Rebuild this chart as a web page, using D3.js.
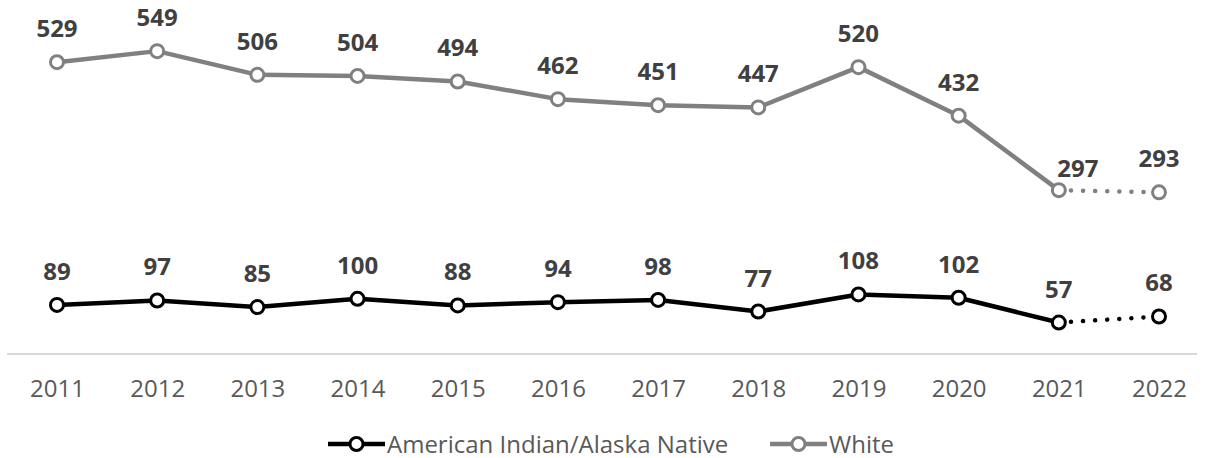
<!DOCTYPE html>
<html>
<head>
<meta charset="utf-8">
<script src="https://cdn.jsdelivr.net/npm/d3@7"></script>
<style>
  html, body { margin: 0; padding: 0; background: #fff; }
  svg { display: block; font-family: "Open Sans", sans-serif; }
</style>
</head>
<body>
<svg id="chart" width="1205" height="458"></svg>
<script>
// Yearly counts by group
const years = ["2011","2012","2013","2014","2015","2016","2017","2018","2019","2020","2021","2022"];
const aianValues = [89, 97, 85, 100, 88, 94, 98, 77, 108, 102, 57, 68];
const whiteValues = [529, 549, 506, 504, 494, 462, 451, 447, 520, 432, 297, 293];
const seriesNames = ["American Indian/Alaska Native", "White"];

const series = [
  { name: seriesNames[0], values: aianValues, color: "#000000" },
  { name: seriesNames[1], values: whiteValues, color: "#808080" }
];

const svg = d3.select("#chart");

const x = d3.scalePoint().domain(years).range([57, 1159]);
const y = d3.scaleLinear().domain([0, 600]).range([354, 23]);

// Baseline axis
svg.append("line")
  .attr("x1", 7).attr("x2", 1197)
  .attr("y1", y(0)).attr("y2", y(0))
  .attr("stroke", "#d9d9d9").attr("stroke-width", 2);

const xAxis = svg.append("g")
  .attr("transform", `translate(0,${y(0)})`)
  .call(d3.axisBottom(x).tickSize(0).tickPadding(0));
xAxis.select(".domain").remove();
xAxis.selectAll("text")
  .attr("y", 43)
  .attr("dy", 0)
  .attr("fill", "#595959")
  .style("font-size", "24px")
  .style("font-family", "'Open Sans', sans-serif");

const line = d3.line().x(d => x(d.year)).y(d => y(d.value));

// Label offsets (dx, dy from point) for the few labels moved off the default spot
const labelOffset = { "White|2021": [19, -13] };

series.forEach(s => {
  const pts = years.map((yr, i) => ({ year: yr, value: s.values[i] }));
  const solid = pts.slice(0, pts.length - 1);
  const dotted = pts.slice(pts.length - 2);

  svg.append("path")
    .datum(solid)
    .attr("d", line)
    .attr("fill", "none")
    .attr("stroke", s.color)
    .attr("stroke-width", 4.5)
    .attr("stroke-linejoin", "round");

  svg.append("path")
    .datum(dotted)
    .attr("d", line)
    .attr("fill", "none")
    .attr("stroke", s.color)
    .attr("stroke-width", 4.5)
    .attr("stroke-linecap", "round")
    .attr("stroke-dasharray", "0.1 12");

  svg.append("g").selectAll("circle")
    .data(pts).join("circle")
    .attr("cx", d => x(d.year))
    .attr("cy", d => y(d.value))
    .attr("r", 6.5)
    .attr("fill", "#fff")
    .attr("stroke", s.color)
    .attr("stroke-width", 3);

  svg.append("g").selectAll("text")
    .data(pts).join("text")
    .attr("x", d => x(d.year) + ((labelOffset[s.name + "|" + d.year] || [0, -25])[0]))
    .attr("y", d => y(d.value) + ((labelOffset[s.name + "|" + d.year] || [0, -25])[1]))
    .attr("text-anchor", "middle")
    .attr("fill", "#404040")
    .style("font-size", "24px")
    .style("font-weight", "700")
    .text(d => d.value);
});

// Legend
const legendItems = [
  { s: series[0], x0: 328 },
  { s: series[1], x0: 770 }
];
const ly = 444;
legendItems.forEach(it => {
  const g = svg.append("g");
  g.append("line")
    .attr("x1", it.x0).attr("x2", it.x0 + 57)
    .attr("y1", ly).attr("y2", ly)
    .attr("stroke", it.s.color).attr("stroke-width", 4.5);
  g.append("circle")
    .attr("cx", it.x0 + 28.5).attr("cy", ly).attr("r", 6.5)
    .attr("fill", "#fff").attr("stroke", it.s.color).attr("stroke-width", 3);
  g.append("text")
    .attr("x", it.x0 + 59).attr("y", ly + 8.5)
    .attr("fill", "#595959")
    .style("font-size", "24px")
    .text(it.s.name);
});
</script>
</body>
</html>
